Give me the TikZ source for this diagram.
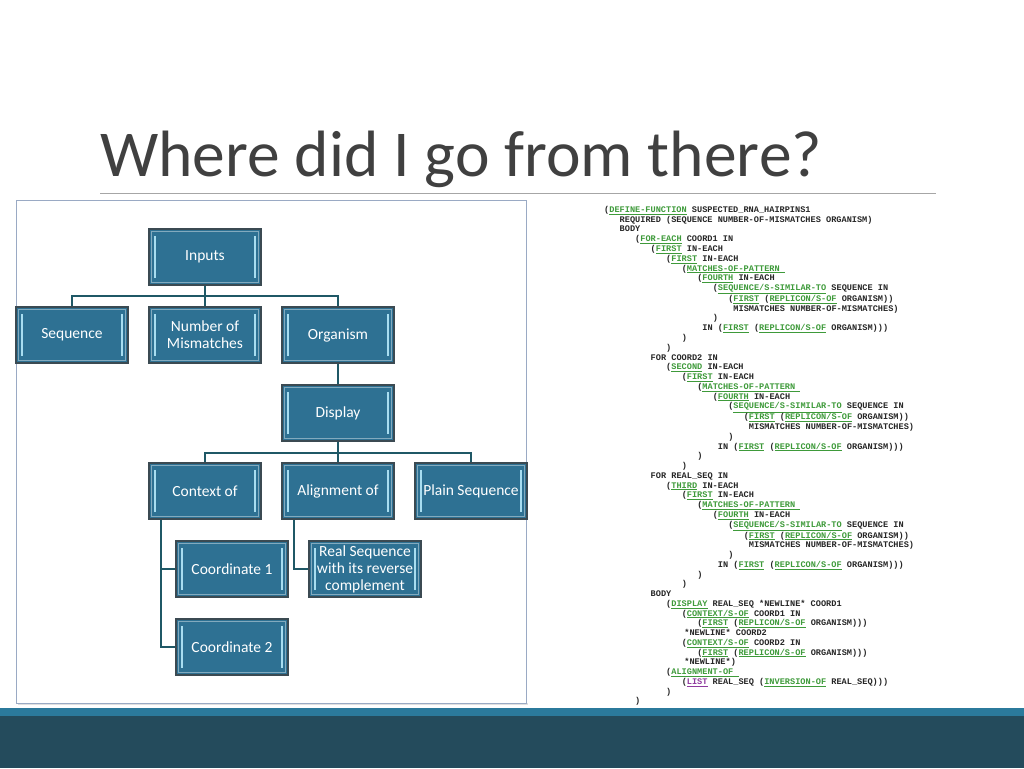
\documentclass[tikz,border=0pt]{standalone}
\usepackage{fontspec}
\setmainfont{Carlito}
\newfontfamily\codefont{Liberation Mono}
\usepackage{tikz}
\usetikzlibrary{calc}
\usepackage{xcolor}
\definecolor{boxblue}{HTML}{2E7193}
\definecolor{boxedge}{HTML}{3B4A52}
\definecolor{bevel}{HTML}{A8DDF0}
\definecolor{linkteal}{HTML}{1F5866}
\definecolor{framegray}{HTML}{9AAAC4}
\definecolor{titlegray}{HTML}{404040}
\definecolor{rulegray}{HTML}{A6A6A6}
\definecolor{kwgreen}{HTML}{3E9A3A}
\definecolor{kwpurple}{HTML}{8E3A9E}
\definecolor{stripe}{HTML}{2B7A9C}
\definecolor{footer}{HTML}{244B5C}
\newcommand{\kw}[1]{\textcolor{kwgreen}{\underline{#1}}}
\newcommand{\kwp}[1]{\textcolor{kwpurple}{\underline{#1}}}
\newlength{\cw}
\setlength{\cw}{5.17pt}
\newcommand{\ind}[1]{\hspace*{#1\cw}}

\begin{document}
\begin{tikzpicture}[x=1pt, y=-1pt,
    box/.style={rectangle, draw=boxedge, line width=1.3pt, fill=boxblue, text=white,
        minimum width=112pt, minimum height=56pt, inner sep=0pt, align=center,
        font=\fontsize{15.5}{17}\selectfont,
        path picture={
            \draw[boxblue!60!white, line width=0.6pt]
                ([shift={(2.5pt,-2.5pt)}]path picture bounding box.north west) rectangle
                ([shift={(-2.5pt,2.5pt)}]path picture bounding box.south east);
            \draw[bevel, line width=1.8pt]
                ([shift={(6pt,-7pt)}]path picture bounding box.north west) --
                ([shift={(6pt,7pt)}]path picture bounding box.south west);
            \draw[bevel, line width=1.8pt]
                ([shift={(-6pt,-7pt)}]path picture bounding box.north east) --
                ([shift={(-6pt,7pt)}]path picture bounding box.south east);
        }},
    conn/.style={draw=linkteal, line width=2.2pt},
    code/.style={align=left, inner sep=0pt, text=black!85,
        font=\codefont\bfseries\fontsize{8.6}{9.76}\selectfont}]
    \useasboundingbox (0,0) rectangle (1024,768);

    % Title
    \node[anchor=base west, inner sep=0pt, text=titlegray,
        font=\fontsize{65.5}{78}\selectfont] (title) at (100,176) {Where did I go from there?};
    \draw[rulegray, line width=1pt] (100,193) -- (936,193);

    % Diagram panel
    \fill[black!12] (18,703) rectangle (528,705);
    \draw[framegray, fill=white, line width=1pt] (16,200) rectangle (526,703);

    \node[box] (inputs) at (205,257) {Inputs};
    \node[box] (seq) at (72,335) {Sequence};
    \node[box] (nmis) at (205,335) {Number of\\Mismatches};
    \node[box] (org) at (338,335) {Organism};
    \node[box] (disp) at (338,413) {Display};
    \node[box] (ctx) at (205,491) {Context of};
    \node[box] (aln) at (338,491) {Alignment of};
    \node[box] (plain) at (471,491) {Plain Sequence};
    \node[box] (crd1) at (232,569) {Coordinate 1};
    \node[box] (rseq) at (365,569) {Real Sequence\\with its reverse\\complement};
    \node[box] (crd2) at (232,647) {Coordinate 2};

    % Links
    \draw[conn] (inputs.south) -- ++(0,10) -| (seq.north);
    \draw[conn] (inputs.south) -- ++(0,10) -| (org.north);
    \draw[conn] (inputs.south) -- (nmis.north);
    \draw[conn] (org.south) -- (disp.north);
    \draw[conn] (disp.south) -- ++(0,11) -| (ctx.north);
    \draw[conn] (disp.south) -- ++(0,11) -| (plain.north);
    \draw[conn] (disp.south) -- (aln.north);
    \draw[conn] ([xshift=13pt]ctx.south west) |- (crd1.west);
    \draw[conn] ([xshift=13pt]ctx.south west) |- (crd2.west);
    \draw[conn] ([xshift=13pt]aln.south west) |- (rseq.west);

    % Lisp query
    \node[code, anchor=north west] (lisp) at (604,206) {%
\ind{0}(\kw{DEFINE-FUNCTION} SUSPECTED\_RNA\_HAIRPINS1\\
\ind{3}REQUIRED (SEQUENCE NUMBER-OF-MISMATCHES ORGANISM)\\
\ind{3}BODY\\
\ind{6}(\kw{FOR-EACH} COORD1 IN\\
\ind{9}(\kw{FIRST} IN-EACH\\
\ind{12}(\kw{FIRST} IN-EACH\\
\ind{15}(\kw{MATCHES-OF-PATTERN\ }\\
\ind{18}(\kw{FOURTH} IN-EACH\\
\ind{21}(\kw{SEQUENCE/S-SIMILAR-TO} SEQUENCE IN\\
\ind{24}(\kw{FIRST} (\kw{REPLICON/S-OF} ORGANISM))\\
\ind{25}MISMATCHES NUMBER-OF-MISMATCHES)\\
\ind{21})\\
\ind{19}IN (\kw{FIRST} (\kw{REPLICON/S-OF} ORGANISM)))\\
\ind{15})\\
\ind{12})\\
\ind{9}FOR COORD2 IN\\
\ind{12}(\kw{SECOND} IN-EACH\\
\ind{15}(\kw{FIRST} IN-EACH\\
\ind{18}(\kw{MATCHES-OF-PATTERN\ }\\
\ind{21}(\kw{FOURTH} IN-EACH\\
\ind{24}(\kw{SEQUENCE/S-SIMILAR-TO} SEQUENCE IN\\
\ind{27}(\kw{FIRST} (\kw{REPLICON/S-OF} ORGANISM))\\
\ind{28}MISMATCHES NUMBER-OF-MISMATCHES)\\
\ind{24})\\
\ind{22}IN (\kw{FIRST} (\kw{REPLICON/S-OF} ORGANISM)))\\
\ind{18})\\
\ind{15})\\
\ind{9}FOR REAL\_SEQ IN\\
\ind{12}(\kw{THIRD} IN-EACH\\
\ind{15}(\kw{FIRST} IN-EACH\\
\ind{18}(\kw{MATCHES-OF-PATTERN\ }\\
\ind{21}(\kw{FOURTH} IN-EACH\\
\ind{24}(\kw{SEQUENCE/S-SIMILAR-TO} SEQUENCE IN\\
\ind{27}(\kw{FIRST} (\kw{REPLICON/S-OF} ORGANISM))\\
\ind{28}MISMATCHES NUMBER-OF-MISMATCHES)\\
\ind{24})\\
\ind{22}IN (\kw{FIRST} (\kw{REPLICON/S-OF} ORGANISM)))\\
\ind{18})\\
\ind{15})\\
\ind{9}BODY\\
\ind{12}(\kw{DISPLAY} REAL\_SEQ *NEWLINE* COORD1\\
\ind{15}(\kw{CONTEXT/S-OF} COORD1 IN\\
\ind{18}(\kw{FIRST} (\kw{REPLICON/S-OF} ORGANISM)))\\
\ind{15.5}*NEWLINE* COORD2\\
\ind{15}(\kw{CONTEXT/S-OF} COORD2 IN\\
\ind{18}(\kw{FIRST} (\kw{REPLICON/S-OF} ORGANISM)))\\
\ind{15.5}*NEWLINE*)\\
\ind{12}(\kw{ALIGNMENT-OF\ }\\
\ind{15}(\kwp{LIST} REAL\_SEQ (\kw{INVERSION-OF} REAL\_SEQ)))\\
\ind{12})\\
\ind{6})};

    % Footer band
    \fill[stripe] (0,708) rectangle (1024,716);
    \fill[footer] (0,716) rectangle (1024,768);
\end{tikzpicture}
\end{document}
